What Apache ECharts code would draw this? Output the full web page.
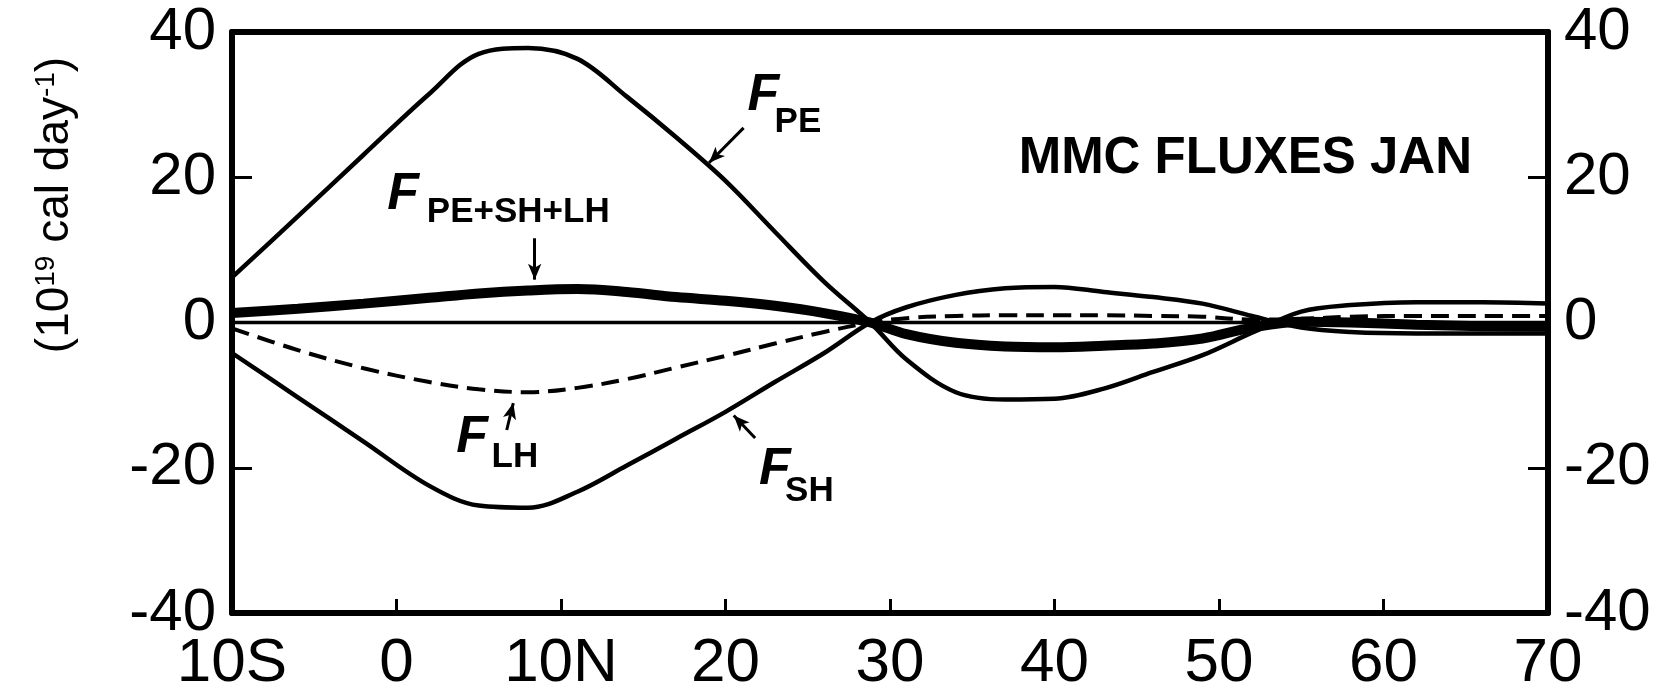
<!DOCTYPE html>
<html><head><meta charset="utf-8">
<script src="https://cdn.jsdelivr.net/npm/echarts@6/dist/echarts.min.js"></script>
<style>html,body{margin:0;padding:0;background:#fff}#c{width:1663px;height:695px}</style>
</head><body><div id="c"></div>
<script>
// Latitude grid (negative = south)
const latitudes = [-10,-6,-2,2,5,8,11,14,17,20,23,26,28.8,31,34,37,40,43,46,49,52,55,58,62,66,70];
// Potential energy flux F_PE
const fPE = [6.2,14.6,23.1,31.5,37.0,37.8,36.3,31.1,25.5,19.5,12.5,5.6,0,-5.1,-9.6,-10.6,-10.5,-9.1,-6.8,-4.5,-1.4,1.5,2.4,2.8,2.8,2.6];
// Sensible heat flux F_SH
const fSH = [-4.2,-10.3,-16.4,-22.5,-25.2,-25.5,-23.3,-19.7,-16.0,-12.3,-8.2,-4.2,0,2.1,3.8,4.7,4.9,4.2,3.5,2.6,0.9,-0.7,-1.3,-1.5,-1.5,-1.5];
// Latent heat flux F_LH (dashed)
const fLH = [-0.8,-3.8,-6.3,-8.2,-9.2,-9.6,-9.0,-7.8,-6.2,-4.6,-2.9,-1.3,0,0.6,0.9,1.0,1.0,1.0,0.9,0.8,0.4,0.5,0.8,0.9,0.9,0.9];
// Total F_PE+SH+LH (thick)
const fTotal = [1.3,1.9,2.6,3.4,4.0,4.4,4.6,4.2,3.5,3.0,2.3,1.3,0,-1.6,-2.8,-3.3,-3.4,-3.2,-2.9,-2.2,-0.7,0.1,0.0,-0.3,-0.5,-0.6];
// Tick labels
const xTickLabels = ['10S','0','10N','20','30','40','50','60','70'];
const yTickValues = [-40,-20,0,20,40];

const pair = arr => latitudes.map((x, i) => [x, arr[i]]);
const fontFam = '"Liberation Sans", Arial, Helvetica, sans-serif';

const chart = echarts.init(document.getElementById('c'), null, {renderer: 'canvas'});

const axisLabelY = {
  fontFamily: fontFam, fontSize: 60, color: '#000',
  formatter: v => yTickValues.includes(v) ? String(v) : ''
};

const subStyle = {fontFamily: fontFam, fontWeight: 'bold', fontSize: 35, color: '#000'};
const fStyle = {fontFamily: fontFam, fontWeight: 'bold', fontStyle: 'italic', fontSize: 52, color: '#000'};

function txt(coord, text, style) {
  return {coord: coord, value: 0, symbol: 'circle', symbolSize: 0,
    label: Object.assign({show: true, position: 'inside', formatter: text, align: 'center', verticalAlign: 'middle'}, style)};
}
function arrow(from, to) {
  return [{coord: from}, {coord: to}];
}

const lineBase = {type: 'line', showSymbol: false, smooth: 0.35, silent: true};

const option = {
  animation: false,
  backgroundColor: '#fff',
  grid: {left: 232, right: 115, top: 32, bottom: 82, containLabel: false},
  xAxis: [{
    type: 'value', min: -10, max: 70, interval: 10, position: 'bottom',
    axisLine: {show: true, onZero: false, lineStyle: {color: '#000', width: 6}},
    axisTick: {show: true, inside: true, length: 14, lineStyle: {color: '#000', width: 3}},
    splitLine: {show: false},
    axisLabel: {fontFamily: fontFam, fontSize: 62, color: '#000', margin: 20,
      formatter: v => xTickLabels[Math.round((v + 10) / 10)]}
  }, {
    type: 'value', min: -10, max: 70, position: 'top',
    axisLine: {show: true, onZero: false, lineStyle: {color: '#000', width: 6}},
    axisTick: {show: false}, axisLabel: {show: false}, splitLine: {show: false}
  }],
  yAxis: [{
    type: 'value', min: -40, max: 40, interval: 20, position: 'left',
    axisLine: {show: true, onZero: false, lineStyle: {color: '#000', width: 6}},
    axisTick: {show: true, inside: true, length: 20, lineStyle: {color: '#000', width: 3}},
    splitLine: {show: false},
    axisLabel: Object.assign({margin: 16}, axisLabelY)
  }, {
    type: 'value', min: -40, max: 40, interval: 20, position: 'right',
    axisLine: {show: true, onZero: false, lineStyle: {color: '#000', width: 6}},
    axisTick: {show: true, inside: true, length: 20, lineStyle: {color: '#000', width: 3}},
    splitLine: {show: false},
    axisLabel: Object.assign({margin: 16}, axisLabelY)
  }],
  graphic: [{
    type: 'text', x: 55, y: 205, rotation: Math.PI / 2,
    style: {
      text: '(10{sup|19} cal day{sup|-1})',
      font: '46px ' + fontFam, fill: '#000',
      textAlign: 'center', textVerticalAlign: 'middle', verticalAlign: 'middle',
      rich: {sup: {fontSize: 28, fontFamily: fontFam, fill: '#000', verticalAlign: 'top', lineHeight: 30}}
    }
  }],
  series: [
    Object.assign({}, lineBase, {
      name: 'zero', data: [[-10, 0], [70, 0]], smooth: false,
      lineStyle: {color: '#000', width: 3.5},
      markPoint: {
        silent: true,
        data: [
          txt([22.3, 31.3], 'F', fStyle),
          txt([24.4, 27.6], 'PE', subStyle),
          txt([0.4, 17.6], 'F', fStyle),
          txt([7.4, 15.2], 'PE+SH+LH', subStyle),
          txt([4.6, -15.8], 'F', fStyle),
          txt([7.2, -18.5], 'LH', subStyle),
          txt([23.0, -20.3], 'F', fStyle),
          txt([25.1, -23.3], 'SH', subStyle),
          txt([51.6, 22.5], 'MMC FLUXES JAN', {fontFamily: fontFam, fontWeight: 'bold', fontSize: 51, color: '#000'})
        ]
      },
      markLine: {
        silent: true, symbol: ['none', 'arrow'], symbolSize: [10, 16],
        label: {show: false},
        lineStyle: {color: '#000', width: 3, type: 'solid'},
        data: [
          arrow([21.1, 26.8], [19.0, 22.0]),
          arrow([8.4, 11.6], [8.4, 5.9]),
          arrow([6.7, -14.8], [7.1, -11.1]),
          arrow([21.8, -15.9], [20.5, -12.8])
        ]
      }
    }),
    Object.assign({}, lineBase, {name: 'F_PE', data: pair(fPE), lineStyle: {color: '#000', width: 4.5}}),
    Object.assign({}, lineBase, {name: 'F_SH', data: pair(fSH), lineStyle: {color: '#000', width: 4.5}}),
    Object.assign({}, lineBase, {name: 'F_LH', data: pair(fLH), lineStyle: {color: '#000', width: 4, type: [18, 9]}}),
    Object.assign({}, lineBase, {name: 'F_PE+SH+LH', data: pair(fTotal), lineStyle: {color: '#000', width: 10}})
  ]
};
chart.setOption(option);
</script>
</body></html>
